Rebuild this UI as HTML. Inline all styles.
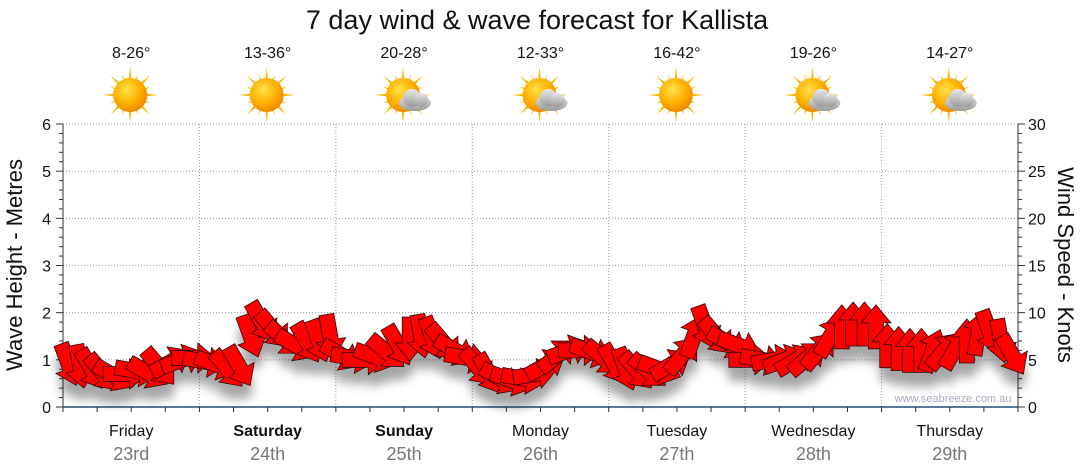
<!DOCTYPE html>
<html><head><meta charset="utf-8"><style>
body{margin:0;background:#fff;font-family:"Liberation Sans","DejaVu Sans",sans-serif}
svg{display:block}
</style></head><body>
<svg id="c" width="1080" height="475" viewBox="0 0 1080 475">
<defs>
<filter id="sh" x="-50%" y="-50%" width="200%" height="200%"><feGaussianBlur stdDeviation="5"/></filter>
<radialGradient id="sun" cx="40%" cy="35%" r="65%"><stop offset="0" stop-color="#ffe14a"/><stop offset="0.6" stop-color="#ffb000"/><stop offset="1" stop-color="#f08a00"/></radialGradient>
<linearGradient id="cl" x1="0" y1="0" x2="0" y2="1"><stop offset="0" stop-color="#e8e8e8"/><stop offset="1" stop-color="#9a9a9a"/></linearGradient>
</defs>
<text x="537" y="29" text-anchor="middle" font-size="27" fill="#111">7 day wind &amp; wave forecast for Kallista</text>
<g id="grid"></g><g id="axes"></g><g id="days"></g><g id="shadow" filter="url(#sh)" opacity="0.35"></g><g id="arrows"></g>
<text x="953" y="402" text-anchor="middle" font-size="11" fill="#aab">www.seabreeze.com.au</text>
<text transform="translate(22,265) rotate(-90)" text-anchor="middle" font-size="22" fill="#111">Wave Height - Metres</text>
<text transform="translate(1058,265) rotate(90)" text-anchor="middle" font-size="22" fill="#111">Wind Speed - Knots</text>
</svg>
<script>
const dayNames=["Friday","Saturday","Sunday","Monday","Tuesday","Wednesday","Thursday"];
const dayDates=["23rd","24th","25th","26th","27th","28th","29th"];
const dayBold=[false,true,true,false,false,false,false];
const temps=["8-26°","13-36°","20-28°","12-33°","16-42°","19-26°","14-27°"];
const cloudy=[false,false,true,true,false,true,true];
const leftTicks=[0,1,2,3,4,5,6];
const rightTicks=[0,5,10,15,20,25,30];
const windSpeed=[4.5,4.3,4,3.6,3.3,3.5,3.8,3.6,4.2,4.8,5,5.2,
4.8,4.5,4,4.3,7.5,9,8.2,7.2,6.5,6.8,7,7.5,
5.5,5.2,5,5.3,5.8,6.5,7.2,7.5,7.3,6.8,6,5.2,
4.2,3.5,3,2.8,3,3.5,4.5,5.5,6,6,5.8,5.2,
4.5,4,3.8,3.8,4,4.5,5.5,7.5,8.5,7.5,6.8,6.5,
5,5,5,5,5,5.2,6,7.5,8.5,8.8,8.8,8.5,
6.5,6.2,6,6,6,6,6.2,7,7.8,8,7,5.5];
const windDir=[160,170,150,140,120,90,100,120,140,60,70,90,
100,110,140,150,160,150,140,130,120,150,160,170,
120,100,90,110,130,150,180,170,160,140,120,100,
140,150,120,110,100,80,60,50,70,90,110,130,
150,160,140,130,110,60,40,20,160,140,120,110,
90,100,80,70,60,50,40,30,0,0,0,0,
0,0,0,0,20,40,30,0,10,160,170,150];
const ns="http://www.w3.org/2000/svg";
const X0=63,X1=1018,Y0=407,Y1=124;
const yM=v=>Y0-(v/6)*(Y0-Y1), yK=v=>Y0-(v/30)*(Y0-Y1);
const dayW=(X1-X0)/7;
const xT=i=>X0+(i+0.5)*dayW/12;
function mk(tag,attrs,parent){const e=document.createElementNS(ns,tag);for(const k in attrs)e.setAttribute(k,attrs[k]);parent.appendChild(e);return e;}
const grid=document.getElementById('grid'),axes=document.getElementById('axes'),days=document.getElementById('days');
leftTicks.forEach(t=>{if(t>0){const l=mk('line',{x1:X0,x2:X1,y1:yM(t),y2:yM(t),stroke:'#999','stroke-dasharray':'1,2'},grid);}
const tx=mk('text',{x:X0-12,y:yM(t)+6,'text-anchor':'end','font-size':16,fill:'#111'},axes);tx.textContent=t;});
rightTicks.forEach(t=>{const tx=mk('text',{x:X1+10,y:yK(t)+6,'font-size':16,fill:'#111'},axes);tx.textContent=t;});
for(let m=0;m<=30;m++){const y=Y0-m*(Y0-Y1)/30,len=m%5==0?7:4;mk('line',{x1:X0-len,x2:X0,y1:y,y2:y,stroke:'#333'},axes);mk('line',{x1:X1,x2:X1+len,y1:y,y2:y,stroke:'#333'},axes);}
mk('line',{x1:X0,x2:X0,y1:Y1,y2:Y0,stroke:'#333'},axes);mk('line',{x1:X1,x2:X1,y1:Y1,y2:Y0,stroke:'#333'},axes);
mk('line',{x1:X0,x2:X1,y1:Y0,y2:Y0,stroke:'#1f4e79','stroke-width':1.5},axes);
for(let q=0;q<=28;q++){const x=X0+q*dayW/4;mk('line',{x1:x,x2:x,y1:Y0,y2:Y0+5,stroke:'#333'},axes);}
for(let i=0;i<7;i++){
 if(i>0){const l=mk('line',{x1:X0+i*dayW,x2:X0+i*dayW,y1:Y1,y2:Y0,stroke:'#999','stroke-dasharray':'1,2'},grid);}
 const cx=X0+(i+0.5)*dayW;
 const a=mk('text',{x:cx,y:436,'text-anchor':'middle','font-size':16,fill:'#111','font-weight':dayBold[i]?'bold':'normal'},days);a.textContent=dayNames[i];
 const b=mk('text',{x:cx,y:460,'text-anchor':'middle','font-size':18,fill:'#777'},days);b.textContent=dayDates[i];
 const t=mk('text',{x:cx,y:58,'text-anchor':'middle','font-size':16,fill:'#111'},days);t.textContent=temps[i];
 const g=mk('g',{transform:`translate(${cx-1},95)`},days);
 for(let r=0;r<16;r++){const ang=r*22.5,L=r%2?22:28;mk('polygon',{points:`-3,0 3,0 0,-${L}`,fill:'#f5b800',transform:`rotate(${ang})`},g);}
 mk('circle',{r:17,fill:'url(#sun)'},g);
 if(cloudy[i]){const c=mk('g',{transform:'translate(12,6)'},g);mk('ellipse',{cx:0,cy:2,rx:16,ry:8,fill:'url(#cl)'},c);mk('circle',{cx:-3,cy:-3,r:9,fill:'url(#cl)'},c);mk('circle',{cx:6,cy:-1,r:7,fill:'url(#cl)'},c);}
}
const sh=document.getElementById('shadow'),ar=document.getElementById('arrows');
const pts="0,-22 15,-4 7.5,-4 7.5,22 -7.5,22 -7.5,-4 -15,-4";
windSpeed.forEach((v,i)=>{
 const x=xT(i),y=yK(v);
 const s=mk('polygon',{points:pts,fill:'#000',transform:`translate(${x},${y+14}) rotate(${windDir[i]})`},sh);
 
 
 const p=mk('polygon',{points:pts,fill:'#ff0000',stroke:'#2a0a0a','stroke-width':0.8,transform:`translate(${x},${y}) rotate(${windDir[i]})`},ar);
 
 
});
</script>
</body></html>
